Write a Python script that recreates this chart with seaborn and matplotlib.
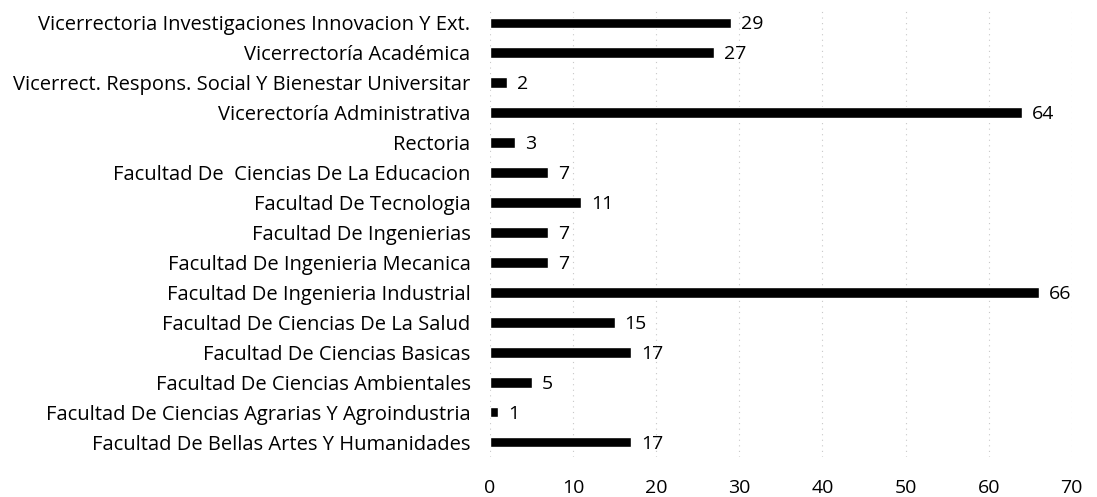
import pandas as pd
import matplotlib.pyplot as plt
import seaborn as sns

# Values, top to bottom
dependencias = [
    "Vicerrectoria Investigaciones Innovacion Y Ext.",
    "Vicerrectoría Académica",
    "Vicerrect. Respons. Social Y Bienestar Universitar",
    "Vicerectoría Administrativa",
    "Rectoria",
    "Facultad De  Ciencias De La Educacion",
    "Facultad De Tecnologia",
    "Facultad De Ingenierias",
    "Facultad De Ingenieria Mecanica",
    "Facultad De Ingenieria Industrial",
    "Facultad De Ciencias De La Salud",
    "Facultad De Ciencias Basicas",
    "Facultad De Ciencias Ambientales",
    "Facultad De Ciencias Agrarias Y Agroindustria",
    "Facultad De Bellas Artes Y Humanidades",
]
cantidad = [29, 27, 2, 64, 3, 7, 11, 7, 7, 66, 15, 17, 5, 1, 17]
x_ticks = [0, 10, 20, 30, 40, 50, 60, 70]

data = pd.DataFrame({"Dependencia": dependencias, "Cantidad": cantidad})

sns.set_style("white")
plt.rcParams['font.family'] = ['Open Sans', 'DejaVu Sans']
plt.rcParams['text.color'] = 'black'
plt.rcParams['xtick.color'] = 'black'
plt.rcParams['ytick.color'] = 'black'

fig = plt.figure(figsize=(10.97, 4.97), dpi=100)
ax = fig.add_axes([0.4467, 0.0805, 0.5303, 0.9035])

sns.barplot(data=data, y="Dependencia", x="Cantidad", color="black",
            width=0.36, orient="h", ax=ax, saturation=1)

# value labels
for i, v in enumerate(cantidad):
    ax.text(v + 1.2, i + 0.05, str(v), va="center", ha="left", fontsize=14, color="black")

ax.set_xlim(0, 70)
ax.set_xticks(x_ticks)
ax.set_ylim(len(cantidad) - 0.5, -0.5)
ax.xaxis.grid(True, linestyle=(0, (1, 4)), color="#c8c8c8", linewidth=0.8)
ax.set_axisbelow(True)
ax.set_xlabel("")
ax.set_ylabel("")
ax.tick_params(axis="y", length=0, pad=14, labelsize=14.5)
ax.tick_params(axis="x", length=0, pad=16, labelsize=14)
sns.despine(ax=ax, left=True, bottom=True)

fig.savefig("out.png", dpi=100)
